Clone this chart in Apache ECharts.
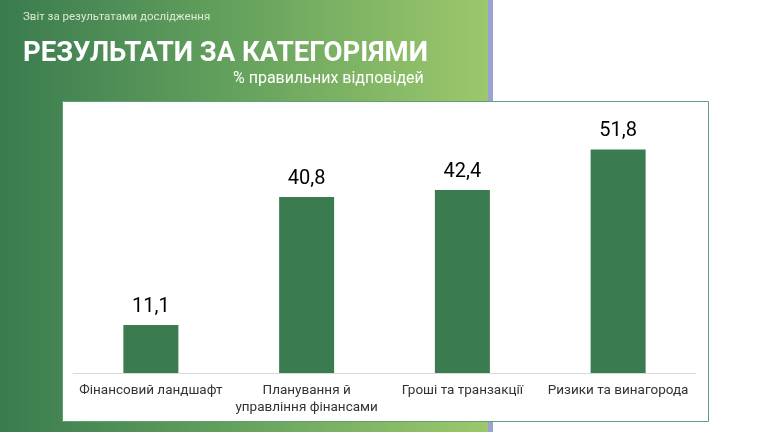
<!DOCTYPE html>
<html>
<head>
<meta charset="utf-8">
<script src="https://cdn.jsdelivr.net/npm/echarts@6/dist/echarts.min.js"></script>
<style>
	html, body { margin: 0; padding: 0; background: #ffffff; }
	#chart { width: 770px; height: 432px; }
</style>
</head>
<body>
<div id="chart"></div>
<script>
// категорії та значення (% правильних відповідей)
var categories = ['Фінансовий ландшафт', 'Планування й\nуправління фінансами', 'Гроші та транзакції', 'Ризики та винагорода'];
var values = [11.1, 40.8, 42.4, 51.8];

var chart = echarts.init(document.getElementById('chart'));

var option = {
	animation: false,
	backgroundColor: '#ffffff',
	graphic: [{
		type: 'rect',
		z: -10,
		shape: { x: 0, y: 0, width: 488, height: 432 },
		style: {
			fill: new echarts.graphic.LinearGradient(0, 0, 1, 0, [
				{ offset: 0, color: '#3a7b4f' },
				{ offset: 0.5, color: '#66a35e' },
				{ offset: 1, color: '#9dc86c' }
			])
		}
	}, {
		type: 'rect',
		z: -10,
		shape: { x: 488, y: 0, width: 5, height: 432 },
		style: { fill: '#9ba2d2' }
	}, {
		type: 'rect',
		z: -9,
		shape: { x: 62.5, y: 101.5, width: 646, height: 320 },
		style: { fill: '#ffffff', stroke: '#5f9f76', lineWidth: 1 }
	}],
	title: [{
		text: 'Звіт за результатами дослідження',
		left: 23, top: 11, padding: 0,
		textStyle: { color: '#dcebd2', fontSize: 11.5, fontWeight: 'normal', fontFamily: 'Roboto' }
	}, {
		text: 'РЕЗУЛЬТАТИ ЗА КАТЕГОРІЯМИ',
		left: 23, top: 40, padding: 0,
		textStyle: { color: '#ffffff', fontSize: 27.5, fontWeight: 'bold', fontFamily: 'Roboto' }
	}, {
		text: '% правильних відповідей',
		left: 233, top: 71, padding: 0,
		textStyle: { color: '#ffffff', fontSize: 16, fontWeight: 'normal', fontFamily: 'Roboto' }
	}],
	grid: { left: 73, right: 74, top: 114, bottom: 59 },
	xAxis: {
		type: 'category',
		data: categories,
		axisLine: { lineStyle: { color: '#d9d9d9', width: 1 } },
		axisTick: { show: false },
		axisLabel: {
			color: '#333333', fontSize: 13.5, fontFamily: 'Roboto',
			lineHeight: 17, margin: 9, interval: 0
		}
	},
	yAxis: {
		type: 'value',
		min: 0, max: 60,
		show: false
	},
	series: [{
		type: 'bar',
		data: values,
		barWidth: 55,
		itemStyle: { color: '#3a7b4f' },
		label: {
			show: true,
			position: 'top',
			distance: 8,
			color: '#000000',
			fontSize: 20,
			fontFamily: 'Roboto',
			formatter: function (p) {
				return p.value.toFixed(1).replace('.', ',');
			}
		}
	}]
};

chart.setOption(option);
</script>
</body>
</html>
